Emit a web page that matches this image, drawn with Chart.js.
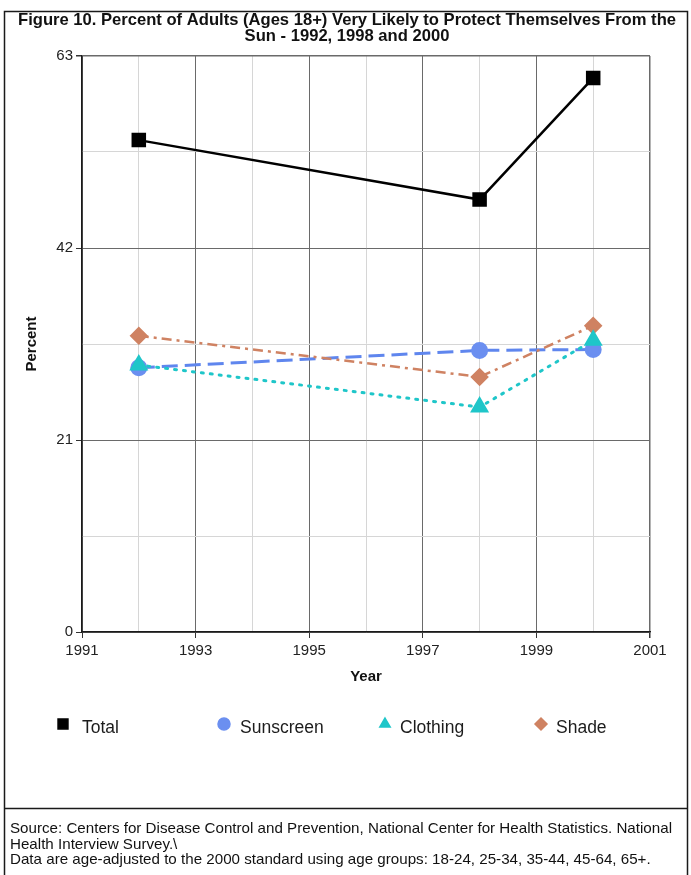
<!DOCTYPE html>
<html>
<head>
<meta charset="utf-8">
<script src="https://cdn.jsdelivr.net/npm/chart.js@4/dist/chart.umd.min.js"></script>
<style>
  html, body { margin: 0; padding: 0; background: #fff; }
  canvas { display: block; }
</style>
</head>
<body>
<canvas id="c" width="691" height="875"></canvas>
<script>
// Survey years and percentages (adults 18+ very likely to protect themselves)
const years = [1992, 1998, 2000];
const total = [53.8, 47.3, 60.6];
const sunscreen = [28.9, 30.8, 30.9];
const clothing = [29.2, 24.6, 31.9];
const shade = [32.4, 27.9, 33.5];

const seriesNames = ['Total', 'Sunscreen', 'Clothing', 'Shade'];
const xTickLabels = [1991, 1993, 1995, 1997, 1999, 2001];
const yTickLabels = [0, 21, 42, 63];

const titleLines = [
  'Figure 10. Percent of Adults (Ages 18+) Very Likely to Protect Themselves From the',
  'Sun - 1992, 1998 and 2000'
];
const footerLines = [
  'Source: Centers for Disease Control and Prevention, National Center for Health Statistics. National',
  'Health Interview Survey.\\',
  'Data are age-adjusted to the 2000 standard using age groups: 18-24, 25-34, 35-44, 45-64, 65+.'
];

const SANS = '"Liberation Sans", Arial, sans-serif';

const toPoints = vals => years.map((x, i) => ({ x: x, y: vals[i] }));

const isMajorX = v => xTickLabels.includes(Math.round(v * 100) / 100);
const isMajorY = v => yTickLabels.some(t => Math.abs(t - v) < 1e-6);

// Draw text squeezed/stretched horizontally by factor sx
function drawScaledText(ctx, text, x, y, sx, align) {
  ctx.save();
  ctx.translate(x, y);
  ctx.scale(sx, 1);
  ctx.textAlign = align;
  ctx.fillText(text, 0, 0);
  ctx.restore();
}

// Frame, title, legend columns and source notes
const decorations = {
  id: 'decorations',
  beforeDraw(chart) {
    const ctx = chart.ctx;
    ctx.save();
    ctx.fillStyle = '#fff';
    ctx.fillRect(0, 0, chart.width, chart.height);
    ctx.restore();
  },
  afterDraw(chart) {
    const ctx = chart.ctx;
    ctx.save();
    // outer frame
    ctx.strokeStyle = '#1a1a1a';
    ctx.lineWidth = 1.5;
    ctx.beginPath();
    ctx.moveTo(4.5, 875);
    ctx.lineTo(4.5, 11.5);
    ctx.lineTo(687.5, 11.5);
    ctx.lineTo(687.5, 875);
    ctx.moveTo(4.5, 808.5);
    ctx.lineTo(687.5, 808.5);
    ctx.stroke();

    // title, fitted to the frame width
    ctx.fillStyle = '#111';
    ctx.textBaseline = 'middle';
    ctx.font = 'bold 17px ' + SANS;
    const tScale = 658 / ctx.measureText(titleLines[0]).width;
    drawScaledText(ctx, titleLines[0], 347, 20.5, tScale, 'center');
    drawScaledText(ctx, titleLines[1], 347, 36.5, tScale, 'center');

    // legend in fixed columns
    const cols = [
      { mx: 63, tx: 82 },
      { mx: 224, tx: 240 },
      { mx: 385, tx: 400 },
      { mx: 541, tx: 556 }
    ];
    const ly = 728;
    chart.data.datasets.forEach((ds, i) => {
      const c = cols[i];
      ctx.fillStyle = ds.pointBackgroundColor;
      ctx.strokeStyle = ds.pointBackgroundColor;
      ctx.setLineDash([]);
      Chart.helpers.drawPoint(ctx, {
        pointStyle: ds.pointStyle,
        radius: ds.pointStyle === 'rect' ? 7 : 6,
        rotation: 0,
        borderWidth: 1
      }, c.mx, ly - 4);
      ctx.fillStyle = '#1c1c1c';
      ctx.textBaseline = 'middle';
      ctx.font = '17.5px ' + SANS;
      drawScaledText(ctx, ds.label, c.tx, ly, 1, 'left');
    });

    // source notes
    ctx.fillStyle = '#111';
    ctx.textBaseline = 'middle';
    ctx.font = '15px ' + SANS;
    const fScale = 662 / ctx.measureText(footerLines[0]).width;
    footerLines.forEach((t, i) => drawScaledText(ctx, t, 10, 829 + i * 15.5, fScale, 'left'));
    ctx.restore();
  }
};

new Chart(document.getElementById('c'), {
  type: 'line',
  data: {
    datasets: [
      {
        label: seriesNames[0],
        data: toPoints(total),
        order: 0,
        borderColor: '#000',
        backgroundColor: '#000',
        pointBackgroundColor: '#000',
        pointBorderColor: '#000',
        borderWidth: 2.5,
        pointStyle: 'rect',
        pointRadius: 8.5,
        pointHoverRadius: 8.5
      },
      {
        label: seriesNames[1],
        data: toPoints(sunscreen),
        order: 3,
        borderColor: '#5f86ee',
        backgroundColor: '#6b8ff0',
        pointBackgroundColor: '#6b8ff0',
        pointBorderColor: '#6b8ff0',
        borderWidth: 3,
        borderDash: [16, 7],
        pointStyle: 'circle',
        pointRadius: 7,
        pointHoverRadius: 7
      },
      {
        label: seriesNames[2],
        data: toPoints(clothing),
        order: 1,
        borderColor: '#1fc6c9',
        backgroundColor: '#1fc6c9',
        pointBackgroundColor: '#1fc6c9',
        pointBorderColor: '#1fc6c9',
        borderWidth: 3,
        borderDash: [2, 7],
        borderCapStyle: 'round',
        pointStyle: 'triangle',
        pointRadius: 8,
        pointHoverRadius: 8
      },
      {
        label: seriesNames[3],
        data: toPoints(shade),
        order: 2,
        borderColor: '#cf8262',
        backgroundColor: '#cf8262',
        pointBackgroundColor: '#cf8262',
        pointBorderColor: '#cf8262',
        borderWidth: 2.5,
        borderDash: [10, 5, 3, 5],
        pointStyle: 'rectRot',
        pointRadius: 7.5,
        pointHoverRadius: 7.5
      }
    ]
  },
  options: {
    responsive: false,
    animation: false,
    devicePixelRatio: 1,
    layout: { padding: { left: 0, right: 41, top: 56, bottom: 187 } },
    plugins: {
      legend: { display: false },
      title: { display: false },
      tooltip: { enabled: false }
    },
    elements: { line: { tension: 0 } },
    scales: {
      x: {
        type: 'linear',
        min: 1991,
        max: 2001,
        afterFit: s => { s.height = 56; },
        ticks: {
          stepSize: 1,
          autoSkip: false,
          maxRotation: 0,
          padding: 4,
          color: '#222',
          font: { family: SANS, size: 15 },
          callback: v => (isMajorX(v) ? String(v) : '')
        },
        grid: {
          color: c => (isMajorX(c.tick.value) ? '#6a6a6a' : '#d6d6d6'),
          lineWidth: c => (c.tick.value === 2001 ? 1.5 : 1),
          tickColor: c => (isMajorX(c.tick.value) ? '#333' : 'rgba(0,0,0,0)'),
          tickLength: 6
        },
        border: { display: true, color: '#1a1a1a', width: 1.5 },
        title: {
          display: true,
          text: 'Year',
          color: '#111',
          font: { family: SANS, size: 15, weight: 'bold' },
          padding: { top: 0, bottom: 2 }
        }
      },
      y: {
        type: 'linear',
        min: 0,
        max: 63,
        afterFit: s => { s.width = 82; },
        ticks: {
          stepSize: 10.5,
          autoSkip: false,
          padding: 3,
          color: '#222',
          font: { family: SANS, size: 15 },
          callback: v => (isMajorY(v) ? String(Math.round(v)) : '')
        },
        grid: {
          color: c => (isMajorY(c.tick.value) ? '#6a6a6a' : '#d6d6d6'),
          lineWidth: c => (Math.abs(c.tick.value - 63) < 1e-6 ? 1.5 : 1),
          tickColor: c => (isMajorY(c.tick.value) ? '#333' : 'rgba(0,0,0,0)'),
          tickLength: 6
        },
        border: { display: true, color: '#1a1a1a', width: 1.5 },
        title: {
          display: true,
          text: 'Percent',
          color: '#111',
          font: { family: SANS, size: 15, weight: 'bold' },
          padding: { top: 23, bottom: 0 }
        }
      }
    }
  },
  plugins: [decorations]
});
</script>
</body>
</html>
